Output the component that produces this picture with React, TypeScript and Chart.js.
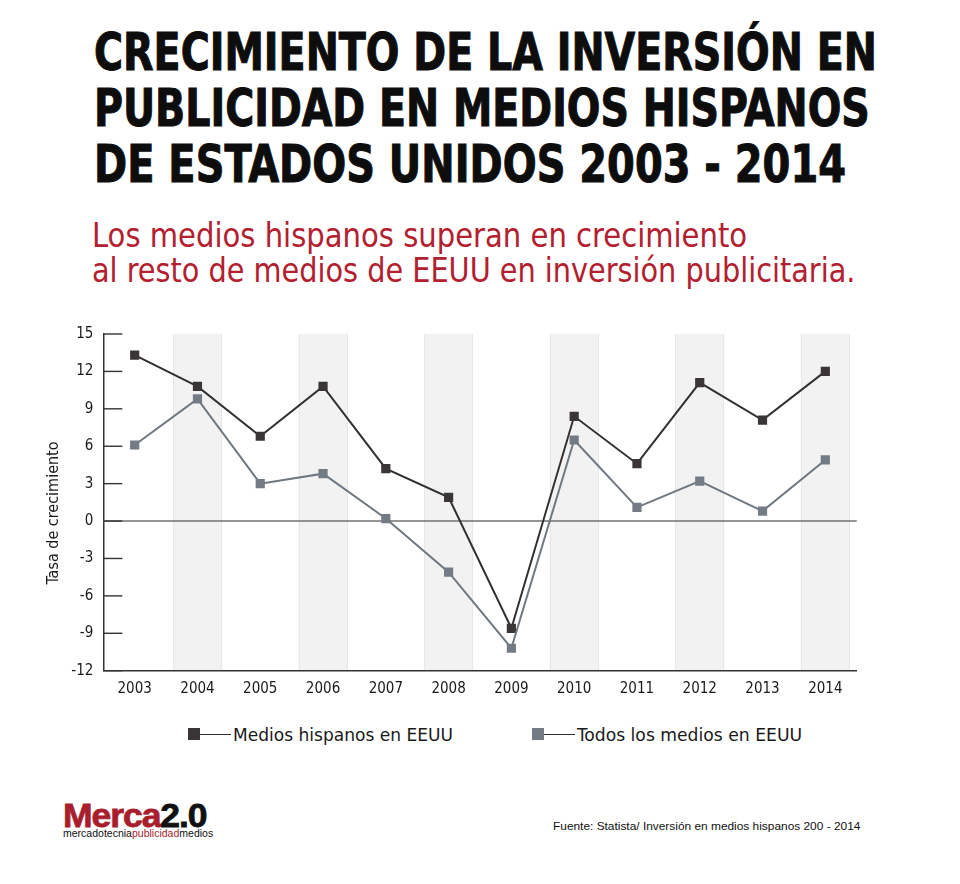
import React, { useEffect, useLayoutEffect, useRef } from "react";
import { Chart, registerables } from "chart.js";

Chart.register(...registerables);

const years = ["2003", "2004", "2005", "2006", "2007", "2008", "2009", "2010", "2011", "2012", "2013", "2014"];
const hispanos = [13.3, 10.8, 6.8, 10.8, 4.2, 1.9, -8.6, 8.4, 4.6, 11.1, 8.1, 12.0];
const todos = [6.1, 9.8, 3.0, 3.8, 0.2, -4.1, -10.2, 6.5, 1.1, 3.2, 0.8, 4.9];
const yTicks = [-12, -9, -6, -3, 0, 3, 6, 9, 12, 15];
const seriesLabels = ["Medios hispanos en EEUU", "Todos los medios en EEUU"];
const titleLines = [
  "CRECIMIENTO DE LA INVERSIÓN EN",
  "PUBLICIDAD EN MEDIOS HISPANOS",
  "DE ESTADOS UNIDOS 2003 - 2014",
];
const subtitleLines = [
  "Los medios hispanos superan en crecimiento",
  "al resto de medios de EEUU en inversión publicitaria.",
];
const yTitle = "Tasa de crecimiento";
const sourceText = "Fuente: Statista/ Inversión en medios hispanos 200 - 2014";

const COND = "'DejaVu Sans Condensed', 'DejaVu Sans', sans-serif";
const DARK = "#3a3536";
const GRAY = "#737c84";
const RED = "#b3202f";

function Fit(props: { w: number; style: React.CSSProperties; children: React.ReactNode }) {
  const ref = useRef<HTMLDivElement | null>(null);
  useLayoutEffect(() => {
    const el = ref.current;
    if (!el) return;
    el.style.transform = "none";
    const actual = el.scrollWidth;
    if (actual > 0) el.style.transform = `scaleX(${props.w / actual})`;
  }, [props.w]);
  return (
    <div
      ref={ref}
      style={{
        position: "absolute",
        whiteSpace: "nowrap",
        lineHeight: 1,
        transformOrigin: "0 0",
        display: "inline-block",
        ...props.style,
      }}
    >
      {props.children}
    </div>
  );
}

const decorPlugin = {
  id: "decor",
  beforeDraw(chart: any) {
    const { ctx, chartArea, scales } = chart;
    const x = scales.x;
    const bandW = 49;
    ctx.save();
    years.forEach((_, i) => {
      if (i % 2 === 1) {
        const cx = x.getPixelForValue(i);
        ctx.fillStyle = "#f2f2f2";
        ctx.fillRect(cx - bandW / 2, chartArea.top, bandW, chartArea.bottom - chartArea.top);
        ctx.strokeStyle = "#e7e7e7";
        ctx.lineWidth = 1;
        ctx.beginPath();
        ctx.moveTo(Math.round(cx - bandW / 2) + 0.5, chartArea.top);
        ctx.lineTo(Math.round(cx - bandW / 2) + 0.5, chartArea.bottom);
        ctx.moveTo(Math.round(cx + bandW / 2) - 0.5, chartArea.top);
        ctx.lineTo(Math.round(cx + bandW / 2) - 0.5, chartArea.bottom);
        ctx.stroke();
      }
    });
    ctx.restore();
  },
  beforeDatasetsDraw(chart: any) {
    const { ctx, chartArea, scales } = chart;
    const y = scales.y;
    ctx.save();
    const y0 = y.getPixelForValue(0);
    ctx.strokeStyle = "#707070";
    ctx.lineWidth = 1.6;
    ctx.beginPath();
    ctx.moveTo(chartArea.left, y0);
    ctx.lineTo(chartArea.right, y0);
    ctx.stroke();
    ctx.strokeStyle = "#333333";
    ctx.lineWidth = 1.4;
    yTicks.forEach((v) => {
      const py = y.getPixelForValue(v);
      ctx.beginPath();
      ctx.moveTo(chartArea.left, py);
      ctx.lineTo(chartArea.left + 19, py);
      ctx.stroke();
    });
    // y axis title
    ctx.fillStyle = "#1a1a1a";
    ctx.font = `16px ${COND}`;
    ctx.textAlign = "center";
    ctx.textBaseline = "middle";
    ctx.translate(54, 513 - 300);
    ctx.rotate(-Math.PI / 2);
    ctx.fillText(yTitle, 0, 0);
    ctx.restore();
  },
};

function ChartView() {
  const canvasRef = useRef<HTMLCanvasElement | null>(null);
  useEffect(() => {
    const canvas = canvasRef.current;
    if (!canvas) return;
    const chart = new Chart(canvas, {
      type: "line",
      data: {
        labels: years,
        datasets: [
          {
            label: seriesLabels[1],
            data: todos,
            borderColor: "#6f7880",
            backgroundColor: GRAY,
            borderWidth: 2,
            pointStyle: "rect",
            pointRadius: 6.5,
            pointBorderWidth: 0,
            pointBackgroundColor: GRAY,
            tension: 0,
          },
          {
            label: seriesLabels[0],
            data: hispanos,
            borderColor: "#333031",
            backgroundColor: DARK,
            borderWidth: 2,
            pointStyle: "rect",
            pointRadius: 6.5,
            pointBorderWidth: 0,
            pointBackgroundColor: DARK,
            tension: 0,
          },
        ],
      },
      options: {
        animation: false,
        responsive: false,
        maintainAspectRatio: false,
        layout: { padding: { top: 34, right: 103.3, left: 0, bottom: 0 } },
        plugins: {
          legend: { display: false },
          tooltip: { enabled: false },
          title: { display: false },
        },
        scales: {
          x: {
            type: "category",
            offset: true,
            grid: { display: false, drawTicks: false },
            border: { display: true, color: "#333333", width: 1.5 },
            ticks: {
              color: "#1a1a1a",
              font: { family: COND, size: 15 },
              padding: 9,
              maxRotation: 0,
              autoSkip: false,
            },
            afterFit: (s: any) => {
              s.height = 49.3;
            },
          },
          y: {
            min: -12,
            max: 15,
            grid: { display: false, drawTicks: false },
            border: { display: true, color: "#333333", width: 1.5 },
            ticks: {
              stepSize: 3,
              color: "#1a1a1a",
              font: { family: COND, size: 15 },
              padding: 10,
            },
            afterFit: (s: any) => {
              s.width = 103.3;
            },
          },
        },
      },
      plugins: [decorPlugin],
    } as any);
    return () => chart.destroy();
  }, []);
  return (
    <canvas
      ref={canvasRef}
      width={960}
      height={420}
      style={{ position: "absolute", left: 0, top: 300, width: 960, height: 420 }}
    />
  );
}

function LegendItem(props: { left: number; color: string; label: string; textW: number }) {
  const { left, color, label, textW } = props;
  return (
    <>
      <div style={{ position: "absolute", left, top: 728, width: 12, height: 12, background: color }} />
      <div style={{ position: "absolute", left: left + 12, top: 733.5, width: 31, height: 1, background: "#333" }} />
      <Fit w={textW} style={{ left: left + 45, top: 741 - 0.846 * 18, fontFamily: COND, fontSize: 18, color: "#1a1a1a" }}>
        {label}
      </Fit>
    </>
  );
}

export default function App() {
  const titleBaselines = [70, 126, 182];
  const titleWidths = [783, 776, 752];
  const subBaselines = [247.3, 281.7];
  const subWidths = [655, 763];
  return (
    <div style={{ position: "absolute", left: 0, top: 0, width: 960, height: 884, background: "#fff", overflow: "hidden" }}>
      {titleLines.map((t, i) => (
        <Fit
          key={t}
          w={titleWidths[i]}
          style={{
            left: 94,
            top: titleBaselines[i] - 0.846 * 51,
            fontFamily: "'DejaVu Sans', sans-serif",
            fontStretch: "condensed",
            fontWeight: 700,
            fontSize: 51,
            color: "#0d0d0d",
            WebkitTextStroke: "1px #0d0d0d",
          }}
        >
          {t}
        </Fit>
      ))}
      {subtitleLines.map((t, i) => (
        <Fit
          key={t}
          w={subWidths[i]}
          style={{
            left: 92,
            top: subBaselines[i] - 0.846 * 33,
            fontFamily: COND,
            fontSize: 33,
            color: RED,
          }}
        >
          {t}
        </Fit>
      ))}
      <ChartView />
      <LegendItem left={188} color={DARK} label={seriesLabels[0]} textW={220} />
      <LegendItem left={532} color={GRAY} label={seriesLabels[1]} textW={225} />
      <Fit
        w={144}
        style={{
          left: 63,
          top: 827 - 0.846 * 34,
          fontFamily: "'Liberation Sans', Arial, sans-serif",
          fontWeight: 700,
          fontSize: 34,
          letterSpacing: -1,
          WebkitTextStroke: "0.8px currentColor",
        }}
      >
        <span style={{ color: "#a81e2d" }}>Merca</span>
        <span style={{ color: "#111" }}>2.0</span>
      </Fit>
      <Fit
        w={150}
        style={{
          left: 63,
          top: 837 - 0.846 * 11,
          fontFamily: "'Liberation Sans', Arial, sans-serif",
          fontSize: 11,
          color: "#111",
        }}
      >
        mercadotecnia<span style={{ color: "#a81e2d" }}>publicidad</span>medios
      </Fit>
      <Fit
        w={307}
        style={{
          left: 553,
          top: 830 - 0.846 * 11,
          fontFamily: "'Liberation Sans', Arial, sans-serif",
          fontSize: 11,
          color: "#111",
        }}
      >
        {sourceText}
      </Fit>
    </div>
  );
}
